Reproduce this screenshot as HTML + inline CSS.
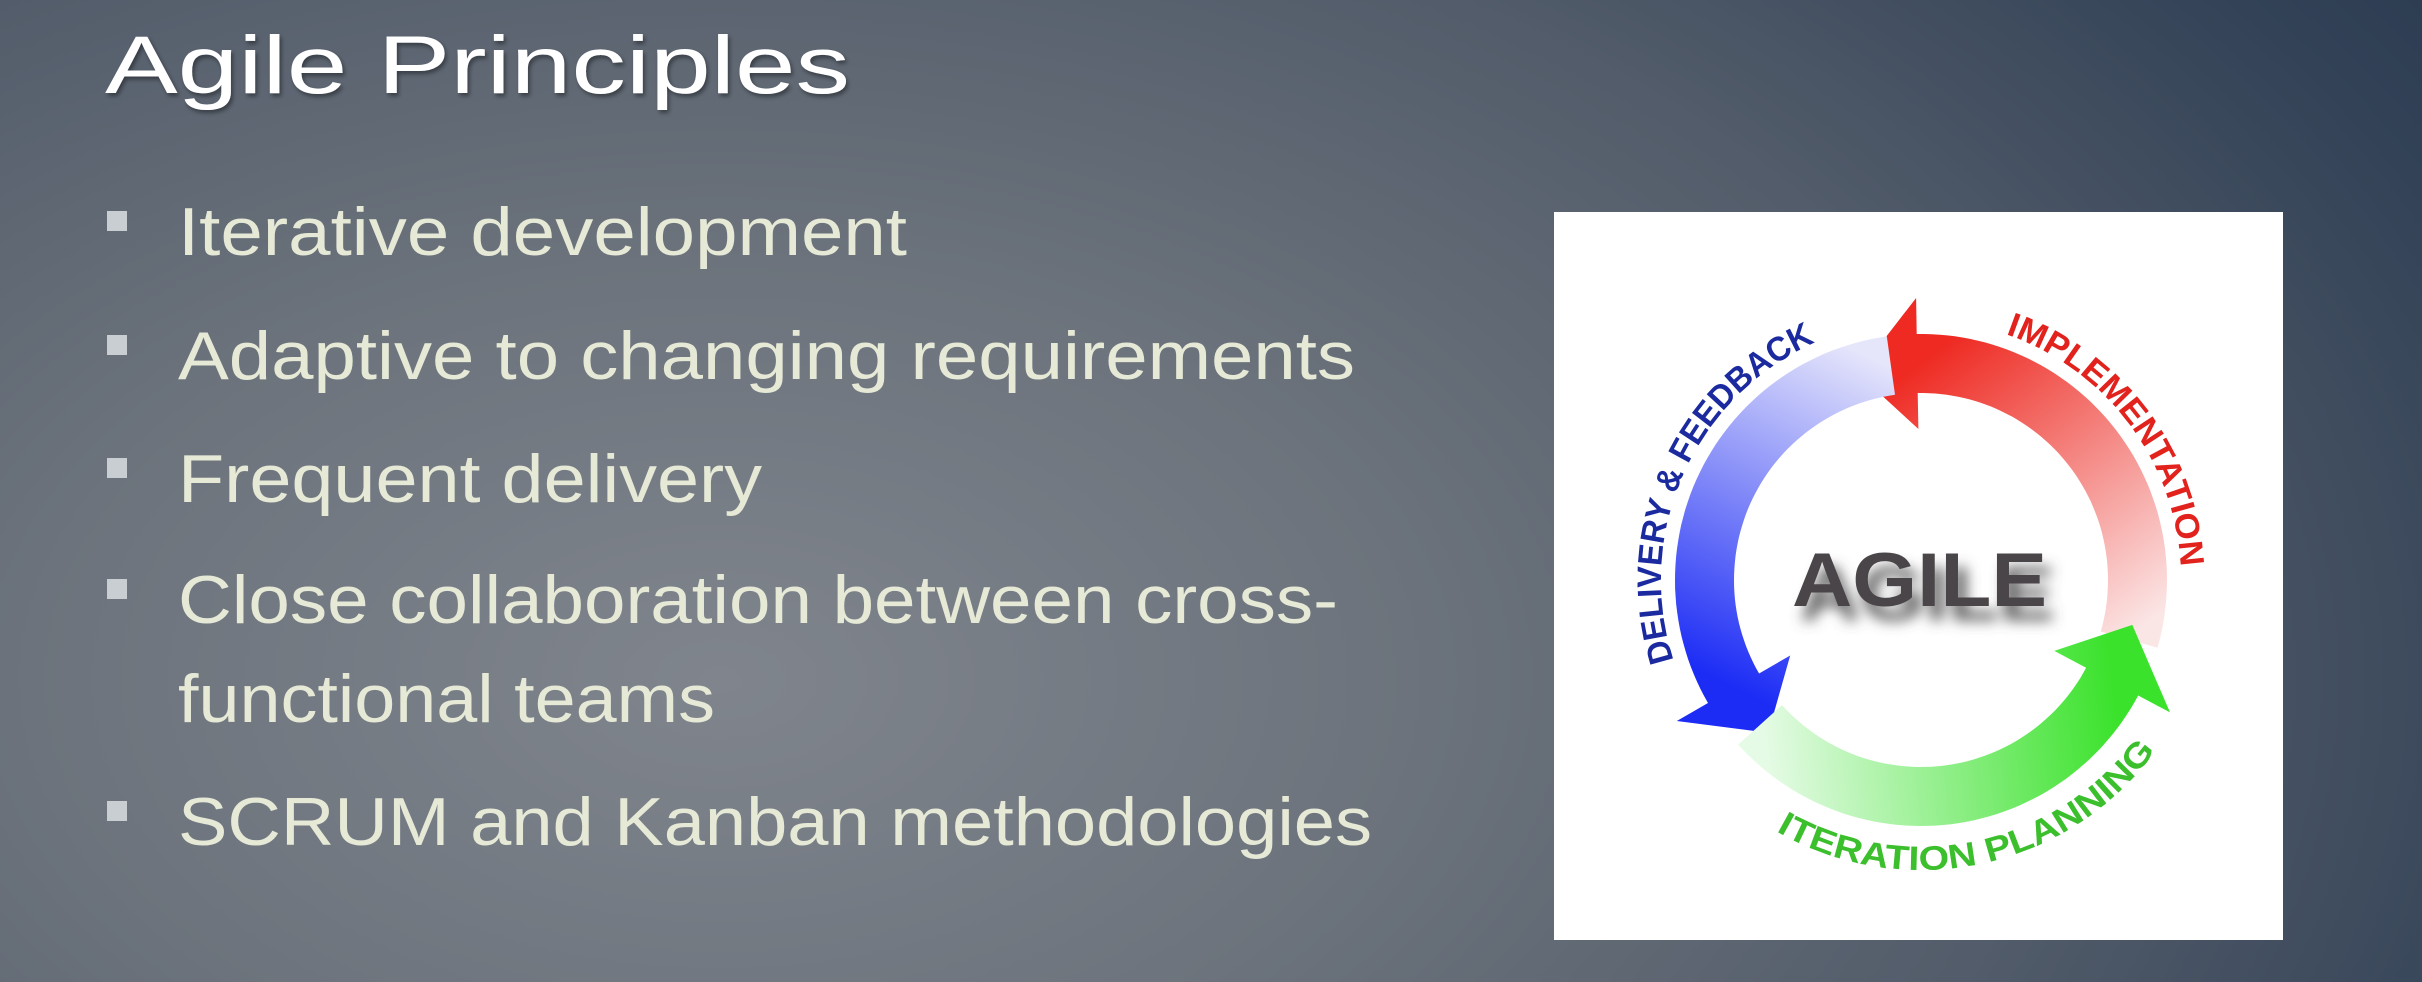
<!DOCTYPE html>
<html><head><meta charset="utf-8"><style>
html,body{margin:0;padding:0;width:2422px;height:982px;overflow:hidden}
body{background:radial-gradient(ellipse 2300px 1400px at 720px 680px,#80858d 0%,#6c737c 30%,#525c6a 58%,#334257 82%,#24344a 100%);font-family:"Liberation Sans",sans-serif}
svg{position:absolute;left:0;top:0}
</style></head><body>
<svg id="slide" width="2422" height="982" viewBox="0 0 2422 982">
<defs>
<filter id="tsh" x="-10%" y="-10%" width="130%" height="150%"><feGaussianBlur stdDeviation="7"/></filter>
<filter id="ttl" x="-5%" y="-20%" width="110%" height="150%"><feDropShadow dx="2" dy="3" stdDeviation="2" flood-color="#000" flood-opacity="0.4"/></filter>
</defs>
<text x="105" y="93" font-size="82" fill="#fff" textLength="745" lengthAdjust="spacingAndGlyphs" filter="url(#ttl)">Agile Principles</text>
<g id="bullets"></g>
<rect x="1554" y="212" width="729" height="728" fill="#fff"/>
<g id="diagram"></g>
</svg>
<script>
const NS="http://www.w3.org/2000/svg";
const bulletTexts=["Iterative development","Adaptive to changing requirements","Frequent delivery","Close collaboration between cross-","functional teams","SCRUM and Kanban methodologies"];
const bulletWidths=[729,1177,584,1160,537,1194];
const bulletBaselines=[255,379,502,623,722,845];
const bulletHasMarker=[1,1,1,1,0,1];
const bg=document.getElementById('bullets');
bulletTexts.forEach((t,i)=>{
  if(bulletHasMarker[i]){
    const r=document.createElementNS(NS,'rect');
    
    
    r.setAttribute('x',107);r.setAttribute('y',bulletBaselines[i]-44);
    r.setAttribute('width',20);r.setAttribute('height',20);r.setAttribute('fill','#c9ced3');
    bg.appendChild(r);
  }
  const tx=document.createElementNS(NS,'text');
  
  
  tx.setAttribute('x',178);tx.setAttribute('y',bulletBaselines[i]);
  tx.setAttribute('font-size',68);tx.setAttribute('fill','#e5e9d6');
  tx.setAttribute('textLength',bulletWidths[i]);tx.setAttribute('lengthAdjust','spacingAndGlyphs');
  tx.textContent=t;bg.appendChild(tx);
});

const cx=1921, cy=580, rIn=187, rOut=246, rMid=216;
const arrowNames=["implementation-arrow","delivery-arrow","iteration-arrow"];
const arrowStart=[16,262,138];
const arrowBase=[-91,150,28];
const arrowTip=[-107,135,12];
const arrowSolid=["#ee2a22","#1c2cf5","#3be22c"];
const arrowFaint=["#fbe6e6","#e6e6fb","#e6fbe6"];
const labels=["IMPLEMENTATION","DELIVERY & FEEDBACK","ITERATION PLANNING"];
const labelFrom=[-71,162,120];
const labelTo=[-3,246,36];
const labelColor=["#e2231d","#1b2a9e","#3cbf2c"];
const d=document.getElementById('diagram');
const defs=document.querySelector('defs');
const rad=a=>a*Math.PI/180;
const pt=(r,a)=>[cx+r*Math.cos(rad(a)),cy+r*Math.sin(rad(a))];
arrowNames.forEach((n,i)=>{
  const s=arrowStart[i],b=arrowBase[i],t=arrowTip[i];
  const g=document.createElementNS(NS,'linearGradient');
  g.setAttribute('id','g'+i);g.setAttribute('gradientUnits','userSpaceOnUse');
  const p1=pt(rMid,s),p2=pt(rMid,b);
  g.setAttribute('x1',p1[0]);g.setAttribute('y1',p1[1]);g.setAttribute('x2',p2[0]);g.setAttribute('y2',p2[1]);
  g.innerHTML=`<stop offset="0" stop-color="${arrowFaint[i]}"/><stop offset="1" stop-color="${arrowSolid[i]}"/>`;
  defs.appendChild(g);
  const steps=60;let pts=[];
  for(let k=0;k<=steps;k++){pts.push(pt(rOut,s+(b-s)*k/steps));}
  pts.push(pt(rOut+36,b));pts.push(pt(rMid,t));pts.push(pt(rIn-36,b));
  for(let k=steps;k>=0;k--){pts.push(pt(rIn,s+(b-s)*k/steps));}
  const p=document.createElementNS(NS,'polygon');
  
  
  p.setAttribute('points',pts.map(q=>q[0].toFixed(1)+','+q[1].toFixed(1)).join(' '));
  p.setAttribute('fill','url(#g'+i+')');
  d.appendChild(p);
});
labels.forEach((L,i)=>{
  const a1=labelFrom[i],a2=labelTo[i];
  const bottom=(i===2);
  const r=bottom?290:260;
  const A=pt(r,a1),B=pt(r,a2);
  const sweep=bottom?0:1;
  const path=document.createElementNS(NS,'path');
  path.setAttribute('id','lp'+i);
  path.setAttribute('d',`M${A[0]},${A[1]} A${r},${r} 0 0 ${sweep} ${B[0]},${B[1]}`);
  path.setAttribute('fill','none');
  defs.appendChild(path);
  const len=Math.abs(a2-a1)*Math.PI/180*r;
  const tx=document.createElementNS(NS,'text');
  
  
  tx.setAttribute('font-size',34);tx.setAttribute('font-weight','bold');tx.setAttribute('fill',labelColor[i]);
  const tp=document.createElementNS(NS,'textPath');
  tp.setAttribute('href','#lp'+i);
  tp.setAttribute('textLength',len.toFixed(0));tp.setAttribute('lengthAdjust','spacingAndGlyphs');
  tp.textContent=L;tx.appendChild(tp);d.appendChild(tx);
});
const sh=document.createElementNS(NS,'text');


sh.setAttribute('x',1800);sh.setAttribute('y',620);sh.setAttribute('font-size',76);sh.setAttribute('font-weight','bold');
sh.setAttribute('fill','#555');sh.setAttribute('textLength',255);sh.setAttribute('lengthAdjust','spacingAndGlyphs');
sh.setAttribute('filter','url(#tsh)');sh.textContent='AGILE';d.appendChild(sh);
const ag=document.createElementNS(NS,'text');


ag.setAttribute('x',1792);ag.setAttribute('y',606);ag.setAttribute('font-size',76);ag.setAttribute('font-weight','bold');
ag.setAttribute('fill','#4a4548');ag.setAttribute('textLength',255);ag.setAttribute('lengthAdjust','spacingAndGlyphs');
ag.textContent='AGILE';d.appendChild(ag);
</script>
</body></html>
